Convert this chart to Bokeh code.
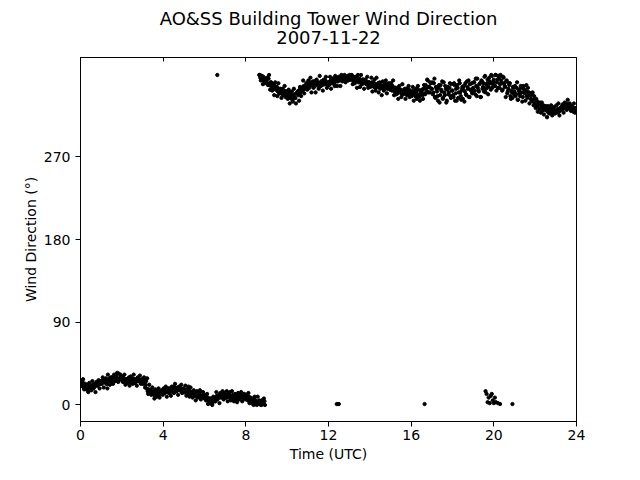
from bokeh.plotting import figure
from bokeh.models import Range1d, FixedTicker, LinearAxis, Title, ColumnDataSource
from bokeh.embed import file_html
from bokeh.resources import INLINE

# ---- data ----
# low branch, series A: sampled every 0.05 h from 0.00 to 8.90 h
low_start, low_step = 0.0, 0.05
low_dir = [
    23, 21, 25, 19, 22, 20, 17, 19, 16, 20, 18, 21, 22, 19, 23, 21, 24, 22, 25, 23,
    26, 24, 27, 25, 28, 23, 18, 27, 29, 26, 28, 25, 30, 27, 31, 29, 26, 34, 28, 30,
    27, 25, 29, 26, 24, 28, 26, 30, 25, 27, 29, 26, 28, 24, 27, 29, 26, 28, 25, 27,
    26, 28, 24, 22, 18, 15, 17, 14, 16, 13, 15, 11, 14, 12, 9, 13, 11, 14, 12, 15,
    13, 16, 14, 17, 15, 18, 16, 14, 19, 17, 16, 20, 18, 15, 19, 17, 16, 18, 14, 17,
    15, 16, 13, 17, 14, 12, 15, 13, 11, 14, 12, 10, 13, 9, 11, 12, 8, 10, 9, 11,
    7, 9, 5, 8, 6, 4, 7, 5, 3, 6, 4, 8, 10, 7, 9, 12, 8, 11, 9, 13,
    10, 8, 11, 9, 12, 7, 10, 8, 11, 9, 6, 10, 8, 7, 9, 11, 8, 10, 7, 9,
    6, 8, 5, 9, 4, 7, 5, 3, 6, 2, 4, 1, 3, 5, 2, 0, 3, 1, 4,
]
# low branch, series B: sampled every 0.05 h from 0.025 to 8.925 h
low_start_b = 0.025
low_dir_b = [
    26, 21, 28, 17, 23, 17, 22, 14, 24, 20, 16, 26, 18, 21, 14, 25, 21, 27, 18, 23,
    23, 30, 19, 26, 29, 23, 33, 26, 22, 30, 30, 23, 33, 26, 31, 35, 25, 29, 33, 28,
    31, 26, 33, 22, 28, 24, 29, 21, 31, 27, 23, 33, 25, 28, 21, 30, 26, 32, 23, 28,
    23, 30, 19, 26, 29, 12, 22, 15, 11, 19, 14, 7, 17, 10, 15, 18, 8, 12, 16, 11,
    18, 13, 20, 9, 15, 13, 18, 10, 20, 16, 13, 23, 15, 18, 11, 20, 16, 22, 13, 18,
    14, 21, 10, 17, 20, 9, 19, 12, 8, 16, 12, 5, 15, 8, 13, 16, 6, 10, 14, 9,
    10, 5, 12, 1, 7, 2, 7, 0, 9, 5, 4, 14, 6, 9, 2, 13, 9, 15, 6, 11,
    8, 15, 4, 11, 14, 5, 15, 8, 4, 12, 10, 3, 13, 6, 11, 14, 4, 8, 12, 7,
    11, 6, 13, 2, 8, 2, 7, 0, 9, 5, 0, 9, 1, 4, 0, 5, 1, 7, 0,
]
# high branch, series A: sampled every 0.05 h from 8.65 to 23.95 h
high_start, high_step = 8.65, 0.05
high_dir = [
    359, 356, 358, 354, 357, 352, 355,
    353, 350, 355, 348, 351, 346, 349, 345, 347, 343, 346, 341, 344, 339, 343, 340, 337, 342, 338, 341,
    339, 336, 340, 334, 337, 332, 335, 338, 334, 339, 341, 337, 343, 340, 345, 342, 347, 344, 346, 348,
    345, 349, 347, 351, 348, 352, 350, 347, 353, 349, 351, 346, 350, 352, 348, 351, 349, 353, 350, 348,
    351, 349, 353, 350, 355, 352, 347, 354, 356, 352, 357, 353, 355, 358, 354, 356, 352, 357, 355, 353,
    357, 354, 358, 355, 352, 356, 353, 357, 354, 351, 355, 352, 349, 354, 351, 353, 350, 352, 348, 351,
    350, 347, 351, 348, 346, 349, 345, 348, 350, 346, 344, 348, 345, 347, 343, 346, 349, 344, 347, 345,
    346, 343, 347, 344, 341, 345, 342, 339, 344, 341, 343, 338, 342, 340, 344, 339, 337, 341, 343, 338,
    341, 338, 342, 339, 336, 340, 337, 343, 335, 339, 341, 337, 344, 339, 348, 342, 353, 346, 340, 350,
    344, 338, 350, 335, 346, 341, 331, 348, 337, 343, 352, 334, 340, 347, 329, 343, 338, 345, 336, 349,
    342, 335, 348, 339, 331, 345, 340, 350, 336, 343, 333, 347, 341, 338, 352, 344, 335, 349, 342, 339,
    345, 351, 338, 347, 355, 342, 349, 335, 353, 344, 350, 357, 340, 348, 354, 346, 352, 343, 358, 349,
    354, 347, 359, 351, 345, 356, 349, 353, 342, 357, 350, 346, 352, 339, 344, 348, 336, 342, 334, 345,
    341, 336, 345, 332, 343, 338, 347, 340, 335, 344, 339, 342, 336, 345, 340, 337, 333, 339, 330, 336,
    328, 333, 325, 329, 322, 327, 324, 320, 326, 323, 321, 325, 319, 323, 320, 318, 322, 319, 321, 317,
    320, 318, 322, 319, 323, 321, 325, 322, 327, 324, 328, 326, 323, 327, 325, 321, 324, 319, 323, 321,
]
# high branch, series B: sampled every 0.05 h from 8.675 to 23.975 h
high_start_b = 8.675
high_dir_b = [
    359, 353, 358, 349, 355, 350, 354,
    356, 348, 359, 343, 351, 342, 349, 337, 351, 346, 336, 350, 339, 344, 334, 344, 339, 347, 335, 341,
    333, 343, 328, 338, 341, 330, 344, 334, 328, 339, 341, 331, 346, 336, 343, 353, 339, 345, 350, 343,
    353, 345, 356, 340, 348, 345, 352, 340, 354, 349, 344, 358, 347, 352, 342, 354, 349, 357, 345, 351,
    348, 357, 344, 353, 355, 349, 358, 352, 347, 356, 355, 347, 359, 352, 357, 359, 351, 355, 358, 354,
    359, 354, 359, 349, 357, 350, 357, 345, 359, 354, 346, 359, 349, 354, 344, 354, 349, 357, 345, 351,
    346, 356, 341, 351, 354, 342, 356, 346, 340, 351, 347, 337, 352, 342, 349, 353, 339, 345, 350, 343,
    350, 342, 353, 337, 345, 338, 345, 333, 347, 342, 335, 349, 338, 343, 333, 344, 339, 347, 335, 341,
    336, 346, 331, 341, 344, 333, 347, 337, 331, 342, 343, 333, 348, 338, 345, 354, 340, 346, 351, 344,
    351, 340, 355, 334, 344, 336, 345, 329, 348, 341, 333, 351, 337, 344, 331, 346, 340, 350, 334, 342,
    337, 350, 331, 344, 348, 334, 353, 340, 332, 346, 343, 330, 350, 337, 346, 353, 335, 343, 350, 340,
    351, 342, 355, 336, 345, 341, 350, 335, 352, 346, 341, 358, 344, 350, 338, 356, 350, 359, 345, 352,
    348, 359, 342, 354, 358, 345, 359, 350, 343, 356, 347, 335, 353, 341, 350, 350, 333, 340, 346, 338,
    347, 338, 351, 332, 341, 336, 345, 330, 347, 341, 331, 348, 334, 340, 328, 337, 331, 340, 326, 333,
    323, 331, 319, 327, 329, 318, 329, 321, 316, 325, 321, 313, 325, 317, 322, 326, 315, 320, 324, 318,
    326, 319, 328, 315, 322, 322, 327, 318, 329, 325, 321, 332, 324, 328, 320, 325, 321, 328, 318, 323,
]
# isolated readings
extra_time = [6.62, 12.40, 12.45, 12.50, 16.65, 19.60, 19.65, 19.70, 19.75, 19.80, 19.85,
              19.90, 19.95, 20.00, 20.05, 20.10, 20.20, 20.30, 20.90]
extra_dir = [359, 1, 1, 1, 1, 15, 12, 3, 8, 2, 10, 12, 5, 2, 8, 3, 2, 1, 1]

y_ticks = [0, 90, 180, 270]
x_ticks = [0, 4, 8, 12, 16, 20, 24]

def sample_times(start, step, n):
    return [round(start + i * step, 3) for i in range(n)]

times = (sample_times(low_start, low_step, len(low_dir))
         + sample_times(low_start_b, low_step, len(low_dir_b))
         + sample_times(high_start, high_step, len(high_dir))
         + sample_times(high_start_b, high_step, len(high_dir_b))
         + extra_time)
dirs = low_dir + low_dir_b + high_dir + high_dir_b + extra_dir
src = ColumnDataSource(dict(t=times, d=dirs))

FONT = "DejaVu Sans"

p = figure(output_backend="svg", toolbar_location=None,
           width=624, height=464,
           x_range=Range1d(0, 24), y_range=Range1d(-18, 378),
           min_border_left=80, min_border_right=48, min_border_top=57, min_border_bottom=43)
p.frame_width = 496
p.frame_height = 364

p.scatter("t", "d", source=src, marker="circle", size=3.3, color="black")

p.xgrid.visible = False
p.ygrid.visible = False
p.outline_line_color = "black"
p.outline_line_width = 1
p.background_fill_color = "white"
p.border_fill_color = "white"

for ax in (p.xaxis[0], p.yaxis[0]):
    ax.axis_line_color = "black"
    ax.major_tick_line_color = "black"
    ax.minor_tick_line_color = None
    ax.major_tick_out = 5
    ax.major_tick_in = 0
    ax.major_label_text_font = FONT
    ax.major_label_text_font_size = "14px"
    ax.major_label_text_color = "black"
    ax.axis_label_text_font = FONT
    ax.axis_label_text_font_size = "14px"
    ax.axis_label_text_font_style = "normal"
    ax.axis_label_text_color = "black"

p.xaxis[0].ticker = FixedTicker(ticks=x_ticks)
p.yaxis[0].ticker = FixedTicker(ticks=y_ticks)
p.xaxis[0].axis_label = "Time (UTC)"
p.yaxis[0].axis_label = "Wind Direction (°)"
p.xaxis[0].major_label_standoff = 3
p.xaxis[0].axis_label_standoff = 3
p.yaxis[0].axis_label_standoff = 2

top = LinearAxis(ticker=FixedTicker(ticks=x_ticks))
top.major_label_text_font_size = "0px"
top.major_label_standoff = 0
top.major_tick_in = 4
top.major_tick_out = 0
top.minor_tick_line_color = None
top.axis_line_color = "black"
p.add_layout(top, "above")

# empty spacer between the frame and the two title lines
p.add_layout(Title(text=" ", text_font_size="11px", standoff=0), "above")
p.add_layout(Title(text="2007-11-22", align="center", text_font=FONT,
                   text_font_size="18px", text_font_style="normal",
                   text_color="black", standoff=0), "above")
p.add_layout(Title(text="AO&SS Building Tower Wind Direction", align="center", text_font=FONT,
                   text_font_size="18px", text_font_style="normal",
                   text_color="black", standoff=0, text_line_height=1.0), "above")

open("out.html", "w").write(file_html(p, INLINE))
